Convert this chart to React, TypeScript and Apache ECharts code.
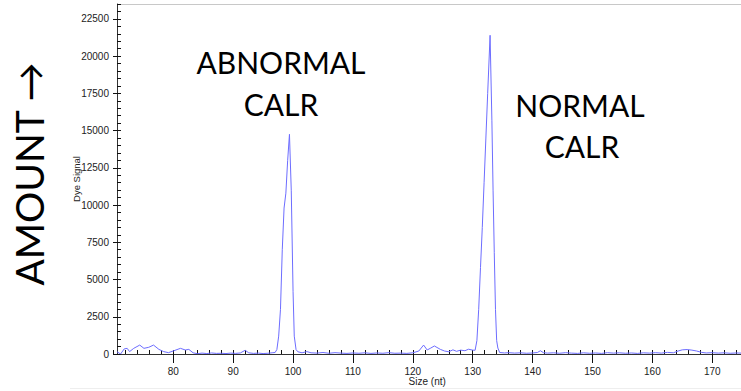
import React, { useEffect, useRef } from "react";
import * as echarts from "echarts";

const sizeNt: number[] = [
  70.6, 71.2, 71.8, 72.3, 72.7, 73.4, 74.4, 75.1, 75.9, 76.7, 77.6, 78.4, 79.2, 80.1, 81.2, 82.0, 82.6, 83.3,
  84.0, 84.8, 85.6, 86.4, 87.2, 88.0, 88.8, 89.6, 90.4, 91.2, 92.0, 92.6, 93.4, 94.2, 95.0, 95.8, 96.5,
  97.0, 97.3, 97.6, 97.9, 98.2, 98.5, 98.8, 99.1, 99.4, 99.7, 100.0, 100.2, 100.5, 100.8,
  101.5, 102.3, 103.0, 104.0, 105.0, 106.0, 107.0, 108.0, 109.0, 110.0, 111.0, 112.0, 113.0, 114.0, 115.0,
  116.0, 117.0, 118.0, 119.0, 120.0, 121.0, 121.8, 122.4, 123.0, 123.6, 124.6, 125.3, 126.0, 126.7, 127.3,
  128.0, 128.7, 129.3, 130.0,
  130.4, 130.7, 131.0, 131.3, 131.6, 131.9, 132.2, 132.5, 132.9, 133.2, 133.4, 133.6, 133.8, 134.0, 134.2, 134.5,
  135.3, 136.0, 137.0, 138.0, 139.0, 140.0, 140.8, 141.3, 141.8, 142.5, 143.5, 144.5, 145.5, 146.5, 147.5,
  148.5, 149.5, 150.5, 151.5, 152.5, 153.5, 154.5, 155.5, 156.5, 157.5, 158.5, 159.5, 160.5, 161.5, 162.5,
  163.5, 164.3, 165.0, 165.8, 166.6, 167.4, 168.2, 169.0, 170.0, 171.0, 172.0, 173.0, 174.0, 174.8,
];

const dyeSignal: number[] = [
  150, 0, 340, 380, 160, 380, 600, 380, 450, 600, 310, 160, 90, 220, 380, 270, 310, 80,
  20, 60, 30, 70, 40, 50, 30, 60, 40, 70, 250, 80, 40, 60, 30, 50, 80,
  100, 300, 1200, 3000, 7000, 9800, 10800, 13000, 14750, 11000, 4200, 1200, 300, 150,
  80, 160, 80, 60, 100, 50, 90, 60, 40, 70, 50, 80, 40, 70, 50,
  90, 50, 60, 40, 80, 200, 600, 270, 400, 540, 310, 200, 150, 280, 180,
  260, 220, 320, 260,
  250, 900, 3000, 5800, 8500, 11500, 14500, 17500, 21400, 15700, 11000, 6800, 3000, 900, 400, 100,
  70, 90, 60, 80, 50, 70, 100, 220, 90, 60, 80, 50, 90, 60, 40,
  80, 50, 70, 40, 90, 60, 80, 50, 70, 40, 80, 60, 90, 60, 110,
  80, 200, 280, 300, 260, 200, 110, 70, 90, 60, 80, 50, 70, 60,
];

const X_MIN = 70;
const X_MAX = 174.8;
const X_MAJOR = 10;
const X_MINOR = 2;
const Y_MIN = 0;
const Y_MAX = 23500;
const Y_MAJOR = 2500;
const Y_MINOR = 500;

const axisFont = "'Liberation Sans', Arial, sans-serif";
const overlayFont = "Lato, 'Open Sans', sans-serif";

export default function App() {
  const ref = useRef<HTMLDivElement>(null);

  useEffect(() => {
    if (!ref.current) return;
    const chart = echarts.init(ref.current, null, { renderer: "svg" });
    const data = sizeNt.map((s, i) => [s, dyeSignal[i]]);
    chart.setOption({
      animation: false,
      backgroundColor: "#ffffff",
      grid: { left: 113.4, right: 0, top: 4, bottom: 37, containLabel: false },
      xAxis: [
        {
          type: "value",
          min: X_MIN,
          max: X_MAX,
          interval: X_MAJOR,
          position: "bottom",
          name: "Size (nt)",
          nameLocation: "middle",
          nameGap: 22,
          nameMoveOverlap: false,
          nameTextStyle: { fontFamily: axisFont, fontSize: 10, color: "#222" },
          axisLine: { show: true, onZero: false, lineStyle: { color: "#333", width: 1 } },
          axisTick: { show: true, length: 9, inside: false, lineStyle: { color: "#111", width: 1 } },
          axisLabel: { showMinLabel: false, showMaxLabel: false, fontFamily: axisFont, fontSize: 10, color: "#222", margin: 12 },
          splitLine: { show: false },
        },
        {
          type: "value",
          min: X_MIN,
          max: X_MAX,
          interval: X_MINOR,
          position: "bottom",
          axisLine: { show: false, onZero: false },
          axisTick: { show: true, length: 4, inside: true, lineStyle: { color: "#111", width: 1 } },
          axisLabel: { show: false },
          splitLine: { show: false },
        },
      ],
      yAxis: [
        {
          type: "value",
          min: Y_MIN,
          max: Y_MAX,
          interval: Y_MAJOR,
          position: "left",
          offset: -3.6,
          name: "Dye Signal",
          nameLocation: "middle",
          nameGap: 36,
          nameMoveOverlap: false,
          nameTextStyle: { fontFamily: axisFont, fontSize: 9.5, color: "#222" },
          axisLine: { show: true, onZero: false, lineStyle: { color: "#333", width: 1 } },
          axisTick: { show: true, length: 4, inside: false, lineStyle: { color: "#111", width: 1 } },
          axisLabel: {
            showMaxLabel: false,
            formatter: (v: number) => String(v),
            fontFamily: axisFont,
            fontSize: 10,
            color: "#222",
            margin: 8,
          },
          splitLine: { show: false },
        },
        {
          type: "value",
          min: Y_MIN,
          max: Y_MAX,
          interval: Y_MINOR,
          position: "left",
          offset: -3.6,
          axisLine: { show: false, onZero: false },
          axisTick: { show: true, length: 4, inside: true, lineStyle: { color: "#111", width: 1 } },
          axisLabel: { show: false },
          splitLine: { show: false },
        },
      ],
      series: [
        {
          type: "line",
          xAxisIndex: 0,
          yAxisIndex: 0,
          data,
          showSymbol: false,
          smooth: false,
          lineStyle: { color: "#6d6dff", width: 1 },
        },
      ],
      graphic: [
        { type: "line", shape: { x1: 117, y1: 4.5, x2: 741, y2: 4.5 }, style: { stroke: "#c8c8c8", lineWidth: 1 } },
        { type: "line", shape: { x1: 70, y1: 388.5, x2: 741, y2: 388.5 }, style: { stroke: "#eeeeee", lineWidth: 1 } },
        {
          type: "text",
          x: 29,
          y: 174,
          rotation: Math.PI / 2,
          style: { text: "AMOUNT →", fontFamily: overlayFont, fontSize: 39, fill: "#000", textAlign: "center", textVerticalAlign: "middle" },
        },
        { type: "text", x: 281, y: 62, style: { text: "ABNORMAL", fontFamily: overlayFont, fontSize: 30, fill: "#000", textAlign: "center", textVerticalAlign: "middle" } },
        { type: "text", x: 281, y: 104, style: { text: "CALR", fontFamily: overlayFont, fontSize: 30, fill: "#000", textAlign: "center", textVerticalAlign: "middle" } },
        { type: "text", x: 580, y: 105, style: { text: "NORMAL", fontFamily: overlayFont, fontSize: 30, fill: "#000", textAlign: "center", textVerticalAlign: "middle" } },
        { type: "text", x: 582, y: 146, style: { text: "CALR", fontFamily: overlayFont, fontSize: 30, fill: "#000", textAlign: "center", textVerticalAlign: "middle" } },
      ],
    });
    return () => chart.dispose();
  }, []);

  return <div ref={ref} style={{ position: "fixed", left: 0, top: 0, width: 741, height: 391 }} />;
}
